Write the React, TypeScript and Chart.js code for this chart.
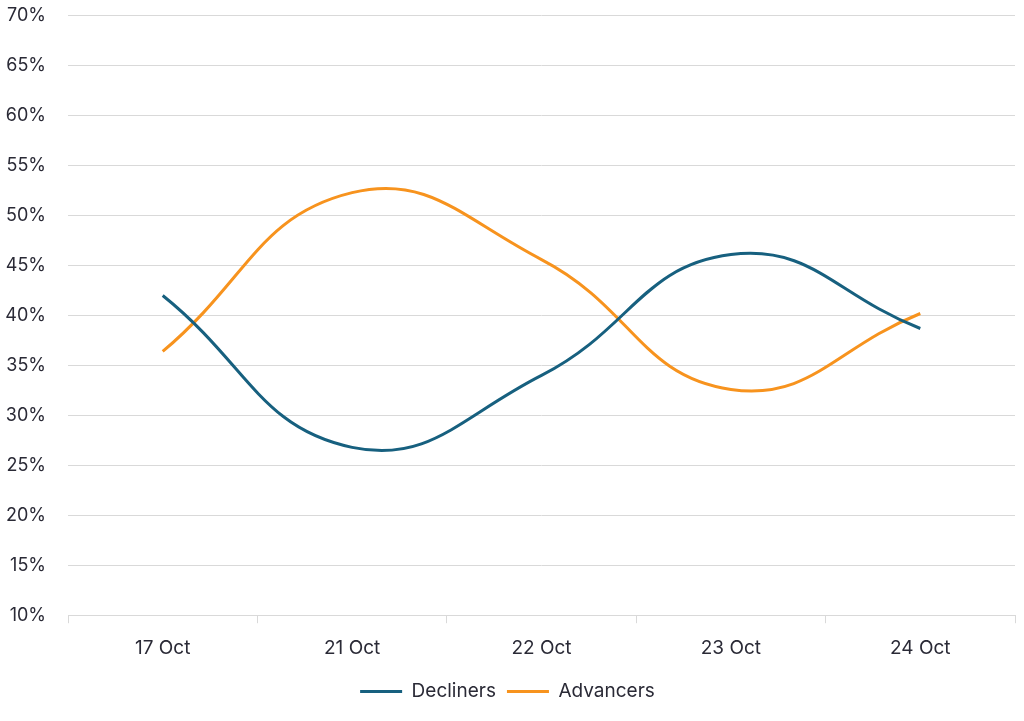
import React, { useEffect, useRef } from "react";
import { Chart, registerables } from "chart.js";

Chart.register(...registerables);

const categories = ["17 Oct", "21 Oct", "22 Oct", "23 Oct", "24 Oct"];
const decliners = [42.0, 26.8, 34.0, 46.1, 38.7];
const advancers = [36.4, 52.3, 45.6, 32.6, 40.2];
const yMin = 10;
const yMax = 70;
const yStep = 5;

const FONT = "Inter, 'Open Sans', sans-serif";
const TEXT = "#2a2a36";

export default function App() {
  const ref = useRef<HTMLCanvasElement>(null);
  useEffect(() => {
    if (!ref.current) return;
    const chart = new Chart(ref.current, {
      type: "line",
      data: {
        labels: categories,
        datasets: [
          {
            label: "Decliners",
            data: decliners,
            borderColor: "#17607f",
            backgroundColor: "#17607f",
            borderWidth: 3,
            pointRadius: 0,
            tension: 0.45,
            pointStyle: "line",
          },
          {
            label: "Advancers",
            data: advancers,
            borderColor: "#f7931e",
            backgroundColor: "#f7931e",
            borderWidth: 3,
            pointRadius: 0,
            tension: 0.45,
            pointStyle: "line",
          },
        ],
      },
      options: {
        animation: false,
        responsive: true,
        maintainAspectRatio: false,
        layout: { padding: { top: 0, right: 9, left: 0, bottom: 10 } },
        scales: {
          x: {
            offset: true,
            afterFit: (scale: any) => {
              scale.height = scale.height - 3;
            },
            grid: {
              offset: true,
              drawOnChartArea: false,
              drawTicks: true,
              tickLength: 8,
              color: "#d9d9d9",
            },
            border: { display: true, color: "#d9d9d9" },
            ticks: {
              color: TEXT,
              font: { family: FONT, size: 19 },
              padding: 14,
            },
          },
          y: {
            min: yMin,
            max: yMax,
            afterFit: (scale: any) => {
              scale.width = 68;
            },
            ticks: {
              stepSize: yStep,
              color: TEXT,
              font: { family: FONT, size: 18 },
              padding: 22,
              callback: (v: any) => v + "%",
            },
            grid: { color: "#d9d9d9", drawTicks: false },
            border: { display: false },
          },
        },
        plugins: {
          tooltip: { enabled: false },
          legend: {
            position: "bottom",
            labels: {
              usePointStyle: true,
              pointStyleWidth: 42,
              boxHeight: 3,
              color: TEXT,
              font: { family: FONT, size: 19 },
              padding: 11,
            },
          },
        },
      },
    });
    return () => chart.destroy();
  }, []);
  return (
    <div style={{ position: "fixed", left: 0, top: -17, width: 1024, height: 738, background: "#fff" }}>
      <canvas ref={ref} />
    </div>
  );
}
